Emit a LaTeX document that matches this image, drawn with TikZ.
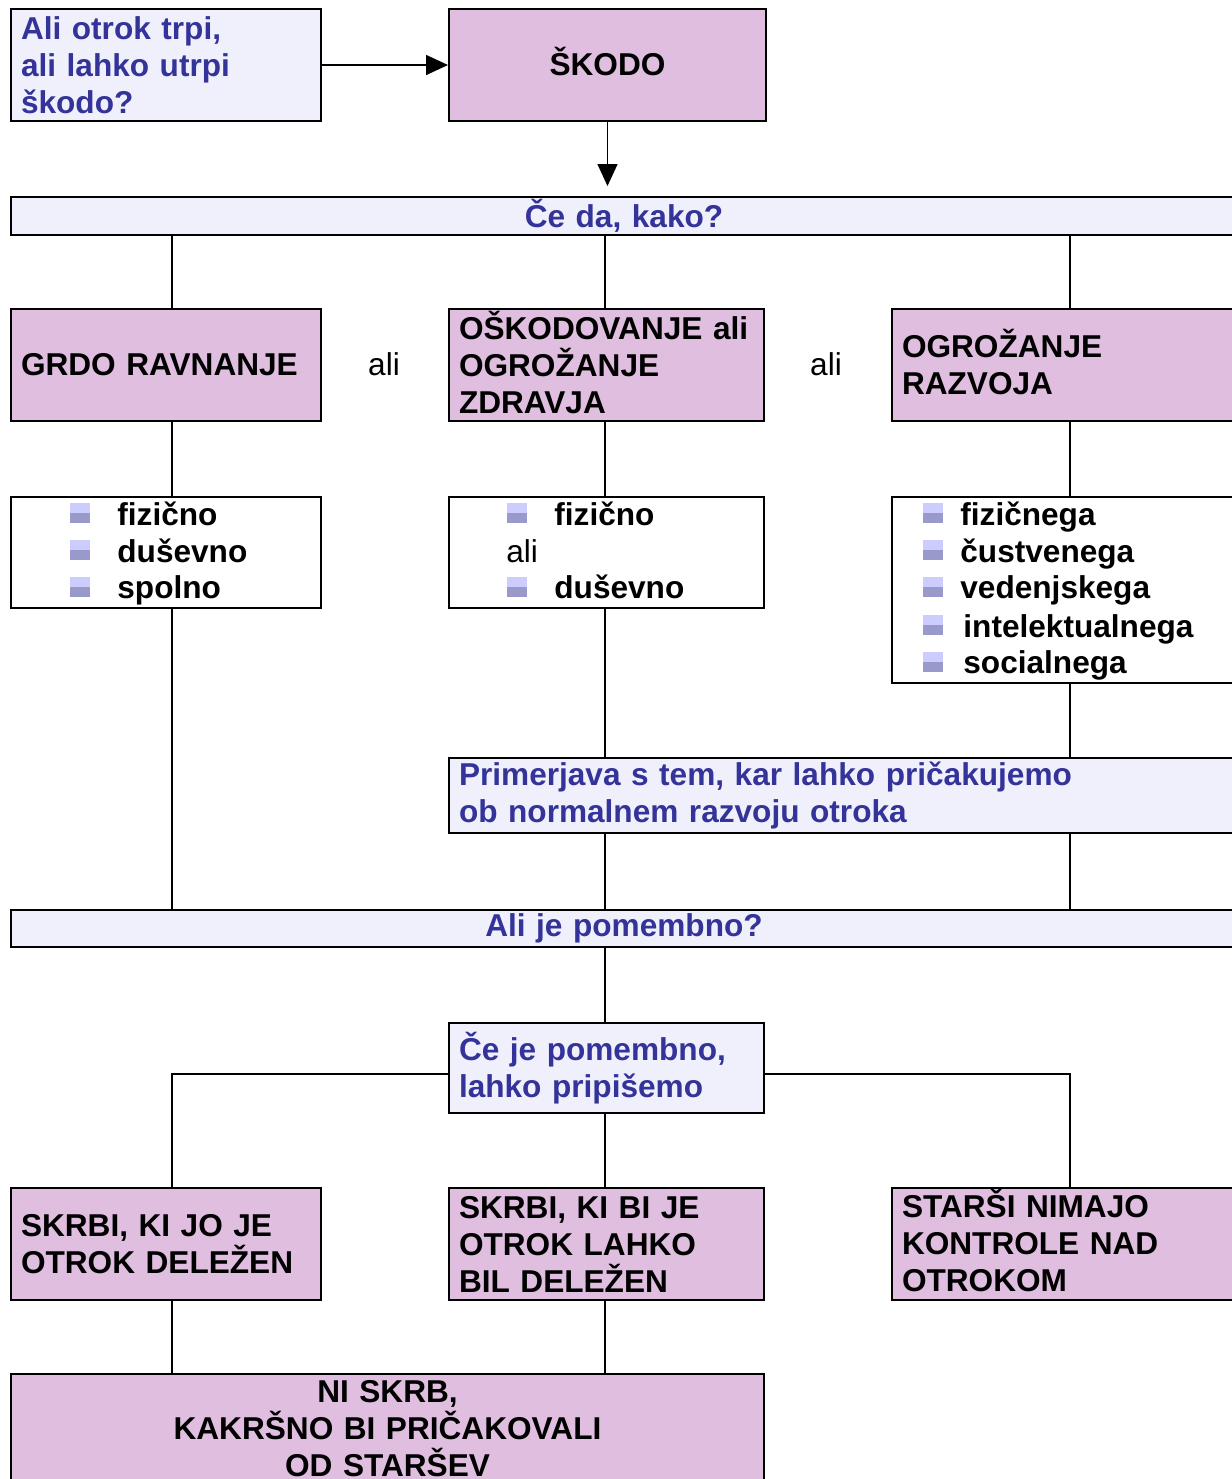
\documentclass[tikz,border=0pt]{standalone}
\usepackage{fontspec}
\setmainfont{Liberation Sans}
\usetikzlibrary{arrows.meta}
\definecolor{boxpink}{RGB}{224,190,224}
\definecolor{boxlav}{RGB}{240,240,252}
\definecolor{textblue}{RGB}{51,51,153}
\definecolor{bulletlight}{RGB}{204,204,255}
\definecolor{bulletdark}{RGB}{153,153,204}
\begin{document}
\begin{tikzpicture}[x=0.5pt,y=-0.5pt,
  every node/.style={font=\fontsize{15.8}{18.5}\selectfont\bfseries},
  pink box/.style={draw,line width=1pt,fill=boxpink,anchor=north west,inner xsep=5pt,inner ysep=0pt,align=left},
  lav box/.style={pink box,fill=boxlav,text=textblue},
  list box/.style={draw,line width=1pt,fill=white,anchor=north west,inner sep=0pt},
  item/.style={anchor=base west,inner sep=0pt},
  plain/.style={font=\fontsize{15.8}{18.5}\selectfont\mdseries},
  link/.style={line width=0.8pt},
  arrow/.style={link,-{Triangle[length=11pt,width=10pt]}},
  bullet/.pic={\fill[bulletlight] (-10,-10) rectangle (10,0);
               \fill[bulletdark] (-10,0) rectangle (10,10);}]
  \clip (0,0) rectangle (1232,1479);

  \coordinate (colA) at (172,0);
  \coordinate (colB) at (605,0);
  \coordinate (colC) at (1070,0);
  \coordinate (joinrow) at (0,1074);

  % top row
  \node[lav box,text width=145pt,minimum height=56pt] (trpi) at (10,8) {Ali otrok trpi,\\ali lahko utrpi\\škodo?};
  \node[pink box,text width=148.5pt,minimum height=56pt,align=center] (skodo) at (448,8) {\smash{Š}KODO};
  \node[lav box,text width=603pt,minimum height=19pt,align=center] (kako) at (10,196) {Če da, kako?};

  % kinds of harm
  \node[pink box,text width=145pt,minimum height=56pt] (grdo) at (10,308) {GRDO RAVNANJE};
  \node[pink box,text width=147.5pt,minimum height=56pt] (oskod) at (448,308) {O\smash{Š}KODOVANJE~ali\\OGROŽANJE\\ZDRAVJA};
  \node[pink box,text width=162.5pt,minimum height=56pt] (ogroz) at (891,308) {OGRO\smash{Ž}ANJE\\RAZVOJA};
  \node[plain] (aliA) at (384,364) {ali};
  \node[plain] (aliB) at (826,364) {ali};

  % lists
  \node[list box,minimum width=155pt,minimum height=55.5pt] (listA) at (10,496) {};
  \node[list box,minimum width=157.5pt,minimum height=55.5pt] (listB) at (448,496) {};
  \node[list box,minimum width=172.5pt,minimum height=93pt] (listC) at (891,496) {};

  \pic at (80,513) {bullet};
  \pic at (80,550) {bullet};
  \pic at (80,587) {bullet};
  \node[item] (fizA) at (117,525) {fizično};
  \node[item] (dusA) at (117,562) {duševno};
  \node[item] (spoA) at (117,598) {spolno};

  \pic at (517,513) {bullet};
  \pic at (517,587) {bullet};
  \node[item] (fizB) at (554,525) {fizično};
  \node[item,plain] (aliC) at (506,562) {ali};
  \node[item] (dusB) at (554,598) {duševno};

  \pic at (933,513) {bullet};
  \pic at (933,550) {bullet};
  \pic at (933,587) {bullet};
  \pic at (933,625) {bullet};
  \pic at (933,662) {bullet};
  \node[item] (fizC) at (960,525) {fizičnega};
  \node[item] (cusC) at (960,562) {čustvenega};
  \node[item] (vedC) at (960,598) {vedenjskega};
  \node[item] (intC) at (963,637) {intelektualnega};
  \node[item] (socC) at (963,673) {socialnega};

  % comparison and significance
  \node[lav box,text width=384pt,minimum height=37.5pt] (primer) at (448,757) {Primerjava s tem, kar lahko pričakujemo\\ob normalnem razvoju otroka};
  \node[lav box,text width=603pt,minimum height=18.5pt,align=center] (pomemb) at (10,909) {Ali je pomembno?};
  \node[lav box,text width=147.5pt,minimum height=45pt] (cepom) at (448,1022) {Če je pomembno,\\lahko pripišemo};

  % attribution
  \node[pink box,text width=145pt,minimum height=56pt] (skrbA) at (10,1187) {SKRBI, KI JO JE\\OTROK DELEŽEN};
  \node[pink box,text width=147.5pt,minimum height=56pt] (skrbB) at (448,1187) {SKRBI, KI BI JE\\OTROK LAHKO\\BIL DELEŽEN};
  \node[pink box,text width=162.5pt,minimum height=56pt] (starsi) at (891,1187) {STAR\smash{Š}I NIMAJO\\KONTROLE NAD\\OTROKOM};
  \node[pink box,text width=366.5pt,minimum height=55pt,align=center] (niskrb) at (10,1373) {NI SKRB,\\KAKRŠNO BI PRIČAKOVALI\\OD STARŠEV};

  % connectors
  \draw[arrow] (trpi.east) -- (skodo.west);
  \draw[arrow,shorten >=5pt] (skodo.south) -- (kako.north -| skodo.south);

  \draw[link] (kako.south -| colA) -- (grdo.north -| colA);
  \draw[link] (kako.south -| colB) -- (oskod.north -| colB);
  \draw[link] (kako.south -| colC) -- (ogroz.north -| colC);

  \draw[link] (grdo.south -| colA) -- (listA.north -| colA);
  \draw[link] (oskod.south -| colB) -- (listB.north -| colB);
  \draw[link] (ogroz.south -| colC) -- (listC.north -| colC);

  \draw[link] (listA.south -| colA) -- (pomemb.north -| colA);
  \draw[link] (listB.south -| colB) -- (primer.north -| colB);
  \draw[link] (listC.south -| colC) -- (primer.north -| colC);
  \draw[link] (primer.south -| colB) -- (pomemb.north -| colB);
  \draw[link] (primer.south -| colC) -- (pomemb.north -| colC);

  \draw[link] (pomemb.south -| colB) -- (cepom.north -| colB);
  \draw[link] (cepom.west |- joinrow) -| (skrbA.north -| colA);
  \draw[link] (cepom.east |- joinrow) -| (starsi.north -| colC);
  \draw[link] (cepom.south -| colB) -- (skrbB.north -| colB);

  \draw[link] (skrbA.south -| colA) -- (niskrb.north -| colA);
  \draw[link] (skrbB.south -| colB) -- (niskrb.north -| colB);
\end{tikzpicture}
\end{document}
